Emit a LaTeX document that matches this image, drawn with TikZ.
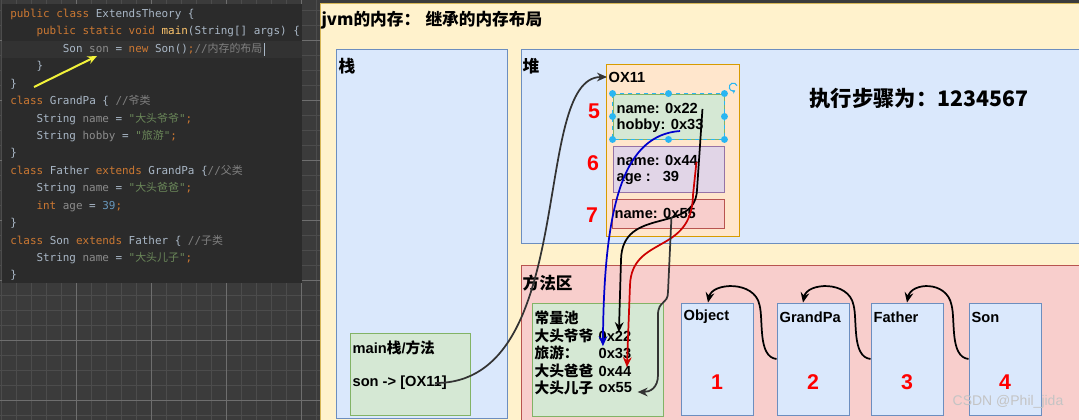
\documentclass[tikz,border=0pt]{standalone}
\usepackage{fontspec}
\setmainfont{Liberation Sans}
\setmonofont{DejaVu Sans Mono}
\newfontfamily\zhfont{Noto Sans CJK SC}
\usepackage{tikz}
\usetikzlibrary{arrows.meta, fit}

\definecolor{gridbg}{HTML}{3B3B3B}
\definecolor{gridminor}{HTML}{4C4C4C}
\definecolor{gridmajor}{HTML}{6E6E6E}
\definecolor{codebg}{HTML}{2B2B2B}
\definecolor{codecur}{HTML}{323232}
\definecolor{codetxt}{HTML}{A9B7C6}
\definecolor{codekw}{HTML}{CC7832}
\definecolor{codevar}{HTML}{8C8C8C}
\definecolor{codestr}{HTML}{6A8759}
\definecolor{codecmt}{HTML}{808080}
\definecolor{codenum}{HTML}{6897BB}
\definecolor{codefun}{HTML}{FFC66D}
\definecolor{ptryellow}{HTML}{F2F23A}
\definecolor{yfill}{HTML}{FFF2CC}
\definecolor{yline}{HTML}{D6B656}
\definecolor{bfill}{HTML}{DAE8FC}
\definecolor{bline}{HTML}{6C8EBF}
\definecolor{rfill}{HTML}{F8CECC}
\definecolor{rline}{HTML}{B85450}
\definecolor{gfill}{HTML}{D5E8D4}
\definecolor{gline}{HTML}{82B366}
\definecolor{pfill}{HTML}{E1D5E7}
\definecolor{pline}{HTML}{9673A6}
\definecolor{ofill}{HTML}{FFE6CC}
\definecolor{oline}{HTML}{D79B00}
\definecolor{stepred}{HTML}{FF0000}
\definecolor{selcolor}{HTML}{29B6F2}
\definecolor{arrowdark}{HTML}{333333}
\definecolor{arrowblue}{HTML}{0000CC}
\definecolor{arrowred}{HTML}{CC0000}
\definecolor{wmgray}{HTML}{C4C4C4}

\newcommand{\zh}[1]{{\zhfont #1}}
\newcommand{\jkw}[1]{\textcolor{codekw}{#1}}
\newcommand{\jvar}[1]{\textcolor{codevar}{#1}}
\newcommand{\jstr}[1]{\textcolor{codestr}{#1}}
\newcommand{\jcmt}[1]{\textcolor{codecmt}{#1}}
\newcommand{\jnum}[1]{\textcolor{codenum}{#1}}
\newcommand{\jfun}[1]{\textcolor{codefun}{#1}}

\tikzset{
    codeline/.style={anchor=base west, inner sep=0pt, text=codetxt,
        font=\ttfamily\fontsize{8.2}{10}\selectfont},
    box/.style 2 args={draw=#1, fill=#2, inner sep=0pt, line width=0.7pt},
    lbl/.style={anchor=west, inner sep=1pt, font=\fontsize{11}{13}\selectfont\bfseries},
    biglbl/.style={anchor=west, inner sep=1pt, font=\zhfont\fontsize{12.5}{15}\selectfont\bfseries},
    stepno/.style={text=stepred, inner sep=0pt, font=\fontsize{16}{18}\selectfont\bfseries},
    link/.style={line width=1.3pt, -{Stealth[length=7.5pt, width=6.5pt]}},
    ptrarrow/.style={ptryellow, line width=1.5pt, -{Stealth[length=7pt, width=6pt]}},
}

\begin{document}
\begin{tikzpicture}[x=0.75pt, y=-0.75pt]
    \useasboundingbox (0,0) rectangle (1079,420);

    % editor grid and code
    \fill[gridbg] (0,0) rectangle (1079,420);
    \foreach \gx in {1,16,...,316}
        \draw[gridminor, line width=0.5pt] (\gx,0) -- (\gx,420);
    \foreach \gy in {10,25,...,415}
        \draw[gridminor, line width=0.5pt] (0,\gy) -- (320,\gy);
    \foreach \gx in {76,151,226,301}
        \draw[gridmajor, line width=0.6pt] (\gx,0) -- (\gx,420);
    \foreach \gy in {40,100,...,400}
        \draw[gridmajor, line width=0.6pt] (0,\gy) -- (320,\gy);
    \fill[codebg] (2,4) rectangle (302,283);
    \fill[codecur] (2,41) rectangle (302,58);

    \node[codeline] (l1) at (10,17.5) {\jkw{public class} ExtendsTheory \{};
    \node[codeline] (l2) at (36.3,34.9) {\jkw{public static void} \jfun{main}(String[] args) \{};
    \node[codeline] (l3) at (62.6,52.4) {Son \jvar{son} = \jkw{new} Son()\jkw{;}\jcmt{//\zh{内存的布局}}};
    \node[codeline] (l4) at (36.3,69.8) {\}};
    \node[codeline] (l5) at (10,87.2) {\}};
    \node[codeline] (l6) at (10,104.7) {\jkw{class} GrandPa \{ \jcmt{//\zh{爷类}}};
    \node[codeline] (l7) at (36.3,122.1) {String \jvar{name} = \jstr{"\zh{大头爷爷}"}\jkw{;}};
    \node[codeline] (l8) at (36.3,139.5) {String \jvar{hobby} = \jstr{"\zh{旅游}"}\jkw{;}};
    \node[codeline] (l9) at (10,156.9) {\}};
    \node[codeline] (l10) at (10,174.4) {\jkw{class} Father \jkw{extends} GrandPa \{\jcmt{//\zh{父类}}};
    \node[codeline] (l11) at (36.3,191.8) {String \jvar{name} = \jstr{"\zh{大头爸爸}"}\jkw{;}};
    \node[codeline] (l12) at (36.3,209.2) {\jkw{int} \jvar{age} = \jnum{39}\jkw{;}};
    \node[codeline] (l13) at (10,226.7) {\}};
    \node[codeline] (l14) at (10,244.1) {\jkw{class} Son \jkw{extends} Father \{ \jcmt{//\zh{子类}}};
    \node[codeline] (l15) at (36.3,261.5) {String \jvar{name} = \jstr{"\zh{大头儿子}"}\jkw{;}};
    \node[codeline] (l16) at (10,278.9) {\}};
    \draw[codetxt, line width=0.6pt] (264,43) -- (264,56);

    \coordinate (ptrtail) at (34,87);
    \coordinate (ptrhead) at (97,56);
    \draw[ptrarrow] (ptrtail) -- (ptrhead);

    % jvm memory areas
    \node[box={yline}{yfill}, fit={(320,3) (1085,425)}] (jvm) {};
    \node[biglbl] (title) at (320,20) {jvm的内存：\hspace{4pt}继承的内存布局};
    \node[box={bline}{bfill}, fit={(336,49) (507,418)}] (stack) {};
    \node[biglbl] (stacklbl) at (337,66) {栈};
    \node[box={bline}{bfill}, fit={(521,49) (1085,243)}] (heap) {};
    \node[biglbl] (heaplbl) at (521,66) {堆};
    \node[box={rline}{rfill}, fit={(521,265) (1085,425)}] (method) {};
    \node[biglbl] (methodlbl) at (521,283) {方法区};

    \node[font=\zhfont\fontsize{16}{19}\selectfont\bfseries] (steps) at (919,98) {执行步骤为：1234567};

    % main frame on the stack
    \node[box={gline}{gfill}, fit={(350,333) (470,415)}] (mainframe) {};
    \node[lbl] (mainlbl) at (351,348) {main\zh{栈}/\zh{方法}};
    \node[lbl] (sonref) at (351,383) {son -> [OX11]};

    % object OX11 on the heap
    \node[box={oline}{ofill}, fit={(606,64) (739,236)}] (ox) {};
    \node[lbl] (oxlbl) at (607,77) {OX11};
    \node[box={gline}{gfill}, fit={(613,94) (724,139)}] (part5) {};
    \node[lbl] (name22) at (615,108) {name: 0x22};
    \node[lbl] (hobby33) at (615,126) {hobby: 0x33};
    \node[box={pline}{pfill}, fit={(613,146) (724,192)}] (part6) {};
    \node[lbl] (name44) at (615,160) {name: 0x44};
    \node[lbl] (age39) at (615,178) {age :\hspace*{9pt}39};
    \node[box={rline}{rfill}, fit={(612,199) (724,228)}] (part7) {};
    \node[lbl] (name55) at (613,213) {name: 0x55};
    \node[stepno] (no5) at (594,111) {5};
    \node[stepno] (no6) at (593,163) {6};
    \node[stepno] (no7) at (592,215) {7};

    % selection handles
    \draw[selcolor, dashed, line width=0.6pt] (part5.north west) rectangle (part5.south east);
    \foreach \a in {north west, north, north east, west, east, south west, south, south east}
        \fill[selcolor] (part5.\a) circle (2.6pt);
    \coordinate (rot) at (733,87);
    \draw[selcolor, line width=0.8pt, -{Stealth[length=2.5pt, width=3pt]}] (rot) ++(3pt,1pt) arc[start angle=20, end angle=300, radius=3pt];

    % constant pool
    \node[box={gline}{gfill}, fit={(532,303) (663,416)}] (pool) {};
    \node[lbl] (pooltitle) at (533,318) {\zh{常量池}};
    \node[lbl] (pk22) at (533,336) {\zh{大头爷爷}};
    \node[lbl] (pv22) at (597,336) {0x22};
    \node[lbl] (pk33) at (533,353) {\zh{旅游：}};
    \node[lbl] (pv33) at (597,353) {0x33};
    \node[lbl] (pk44) at (533,371) {\zh{大头爸爸}};
    \node[lbl] (pv44) at (597,371) {0x44};
    \node[lbl] (pk55) at (533,388) {\zh{大头儿子}};
    \node[lbl] (pv55) at (597,388) {ox55};

    % classes
    \foreach \cname/\cx/\ctext/\cnum in {object/681/Object/1, grandpa/777/GrandPa/2, father/871/Father/3, son/969/Son/4} {
        \node[box={bline}{bfill}, fit={(\cx,303) (\cx+72,415)}] (\cname) {};
        \node[lbl] (\cname-lbl) at (\cx+1,317) {\ctext};
        \node[stepno] (\cname-no) at (\cx+36,382) {\cnum};
    }

    % references
    \draw[link, arrowdark] ([xshift=-10pt]sonref.east) .. controls (580,384) and (530,77) .. (oxlbl.west);
    \draw[link, black] ([shift={(3,1)}]name22.east) -- (697,190) .. controls (695,235) and (622,205) .. (621,260) -- ([shift={(4,3)}]pv22.north);
    \draw[link, arrowblue] ([shift={(-25,5)}]hobby33.east) .. controls (625,135) and (604,200) .. ([shift={(-12,0)}]pv33.north);
    \draw[link, arrowred] ([shift={(-3,2)}]name44.east) -- (693,195) .. controls (692,255) and (632,235) .. (630,285) -- ([shift={(12,3)}]pv44.north);
    \draw[link, arrowdark] ([shift={(-26,4)}]name55.east) -- (668,292) .. controls (668,305) and (658,300) .. (658,315) -- (658,375) .. controls (658,388) and (650,392) .. ([shift={(4,4)}]pv55.east);

    \foreach \child/\parent/\dx in {grandpa/object/-9, father/grandpa/-10, son/father/0}
        \draw[link, black] (\child.west) .. controls +(-19,-2) and +(4,15) .. ([shift={(-17,-54)}]\child.west)
            .. controls +(-5,-25) and +(4,-20) .. ([shift={(\dx,0)}]\parent.north);

    \node[text=wmgray, font=\fontsize{10.5}{12}\selectfont] (wm) at (1008,402) {CSDN @Phil\_jida};
\end{tikzpicture}
\end{document}
